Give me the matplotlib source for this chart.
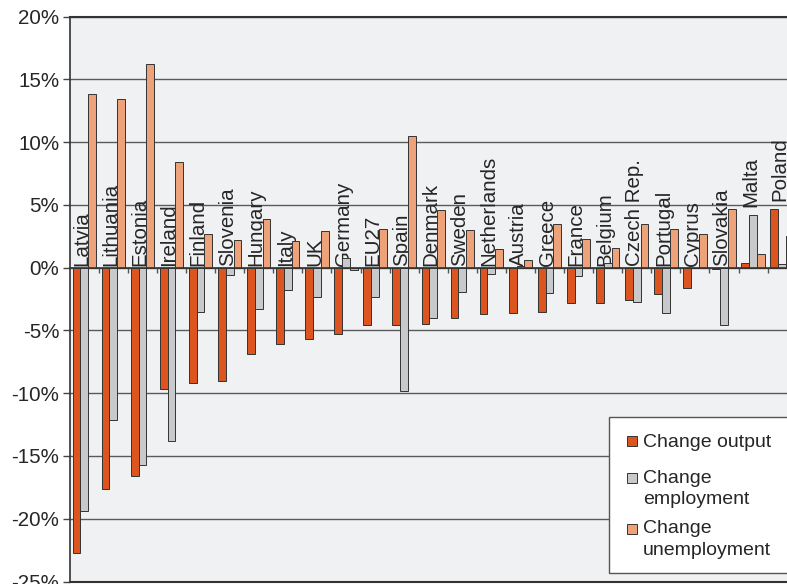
import numpy as np
import matplotlib
matplotlib.use("Agg")
import matplotlib.pyplot as plt
from matplotlib.patches import Rectangle
from matplotlib.ticker import FixedLocator, FuncFormatter

plt.rcParams["font.family"] = ["Liberation Sans", "DejaVu Sans"]

# Change 2008-2009 by country (%)
countries = ["Latvia", "Lithuania", "Estonia", "Ireland", "Finland", "Slovenia",
             "Hungary", "Italy", "UK", "Germany", "EU27", "Spain", "Denmark",
             "Sweden", "Netherlands", "Austria", "Greece", "France", "Belgium",
             "Czech Rep.", "Portugal", "Cyprus", "Slovakia", "Malta", "Poland"]
change_output = [-22.7, -17.6, -16.6, -9.7, -9.2, -9.0, -6.9, -6.1, -5.7, -5.3,
                 -4.6, -4.6, -4.5, -4.0, -3.7, -3.6, -3.5, -2.8, -2.8, -2.6,
                 -2.1, -1.6, -0.1, 0.4, 4.7]
change_employment = [-19.4, -12.1, -15.7, -13.8, -3.5, -0.6, -3.3, -1.8, -2.3, 0.8,
                     -2.3, -9.8, -4.0, -1.9, -0.5, 0.1, -2.0, -0.7, 0.4, -2.7,
                     -3.6, 0.0, -4.6, 4.2, 0.3]
change_unemployment = [13.8, 13.4, 16.2, 8.4, 2.7, 2.2, 3.9, 2.1, 2.9, -0.2,
                       3.1, 10.5, 4.6, 3.0, 1.5, 0.6, 3.5, 2.3, 1.6, 3.5,
                       3.1, 2.7, 4.7, 1.1, 2.5]
y_ticks = [-25, -20, -15, -10, -5, 0, 5, 10, 15, 20]
legend_labels = ["Change output", "Change\nemployment", "Change\nunemployment"]

C_OUT = "#dc551e"
C_EMP = "#c8c9cb"
C_UNEMP = "#eea27a"
EDGE = "#333333"
BG = "#f0f1f3"
TXT = "#262626"

W, H = 787, 584
fig = plt.figure(figsize=(W / 100, H / 100), dpi=100)
fig.patch.set_facecolor("white")


def fx(px):
    return px / W


def fy(py):
    return 1 - py / H


ax = fig.add_axes([fx(69.7), fy(581.5), fx(796.7) - fx(69.7), fy(16.6) - fy(581.5)])
ax.set_facecolor(BG)

x = np.arange(len(countries))
bw = 0.268
ax.bar(x - bw, change_output, bw, color=C_OUT, edgecolor=EDGE, linewidth=0.7, zorder=3)
ax.bar(x, change_employment, bw, color=C_EMP, edgecolor=EDGE, linewidth=0.7, zorder=3)
ax.bar(x + bw, change_unemployment, bw, color=C_UNEMP, edgecolor=EDGE, linewidth=0.7, zorder=3)

ax.set_xlim(-0.5, len(countries) - 0.5)
ax.set_ylim(y_ticks[0], y_ticks[-1])

# horizontal gridlines
ax.yaxis.set_major_locator(FixedLocator(y_ticks))
ax.yaxis.set_major_formatter(FuncFormatter(lambda v, p: f"{int(round(v))}%"))
ax.grid(axis="y", color="#5a5a5a", linewidth=1.0, zorder=1)
ax.set_axisbelow(True)
ax.tick_params(axis="y", direction="out", length=5, width=1, color="#444444",
               labelsize=14.8, labelcolor=TXT, pad=2.5)

# category axis crossing at zero, ticks between categories
ax.spines["bottom"].set_position(("data", 0))
ax.spines["bottom"].set_color("#333333")
ax.spines["bottom"].set_linewidth(1.2)
ax.spines["bottom"].set_zorder(4)
ax.xaxis.set_major_locator(FixedLocator(np.arange(0.5, len(countries) - 0.5, 1)))
ax.tick_params(axis="x", direction="out", length=3.6, width=1, color="#555555",
               labelbottom=False)
ax.spines["top"].set_color("#333333")
ax.spines["top"].set_linewidth(1.5)
ax.spines["left"].set_color("#333333")
ax.spines["left"].set_linewidth(1.2)
ax.spines["right"].set_visible(False)
ax.axhline(y_ticks[0], color="#333333", linewidth=1.5, clip_on=False, zorder=4)

# country names written upward from the axis, lifted above tall positive bars
for i, name in enumerate(countries):
    top = max(0.0, change_output[i], change_employment[i])
    base = top + 0.5 if top > 1 else 0.0
    ax.text(i + 0.105, base + 0.1, name, rotation=90, rotation_mode="anchor",
            ha="left", va="baseline", fontsize=14.8, color=TXT, zorder=2)

# legend panel
fig.patches.append(Rectangle((fx(609), fy(573.3)), fx(805) - fx(609), fy(416.7) - fy(573.3),
                             transform=fig.transFigure, facecolor="white",
                             edgecolor="#555555", linewidth=1.0, zorder=5))
colors = [C_OUT, C_EMP, C_UNEMP]
square_centers = [440.5, 477.5, 528.5]
baselines = [446.7, 482.7, 533.3]
line_step = 21.8
for col, label, cy, bl in zip(colors, legend_labels, square_centers, baselines):
    fig.patches.append(Rectangle((fx(626.7), fy(cy + 5)), fx(10), 10 / H,
                                 transform=fig.transFigure, facecolor=col,
                                 edgecolor=EDGE, linewidth=0.7, zorder=6))
    for j, line in enumerate(label.split("\n")):
        fig.text(fx(642.7), fy(bl + j * line_step), line, fontsize=14, color=TXT,
                 ha="left", va="baseline", zorder=7)

fig.savefig("out.png", dpi=100)
